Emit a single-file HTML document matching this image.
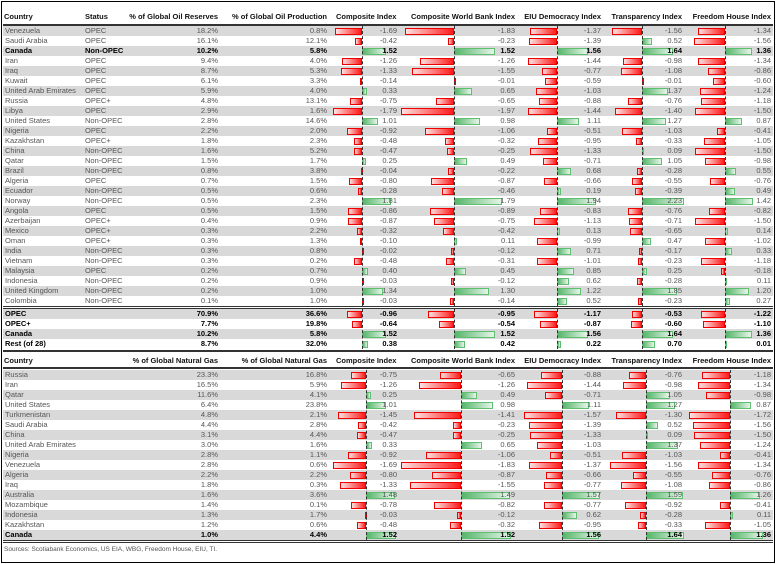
<!DOCTYPE html>
<html><head><meta charset="utf-8"><style>
body{margin:0;width:776px;height:564px;background:#fff;position:relative;overflow:hidden;font-family:"Liberation Sans",sans-serif}
.bd{position:absolute;left:1px;top:1px;width:772px;height:560px;border:1px solid #000}
.r{position:absolute;left:3px;width:770px;height:10px;font-size:7.5px;line-height:10px;color:#555}
.g{background:#d9d9d9}
.r s{position:absolute;text-decoration:none;white-space:nowrap;top:0;z-index:2}
.c{left:2px}.s{left:82px}
.p1{right:555px}.p2{right:446px}.v1{right:376px}.v2{right:258px}.v3{right:172px}.v4{right:91px}.v5{right:2px}
.b{color:#000;font-weight:bold}
i{position:absolute;top:1.5px;height:7px;box-sizing:border-box;width:calc(var(--v)*var(--s));min-width:2px;z-index:1}
.k1{--a:359px;--s:16px}.k2{--a:451px;--s:27px}.k3{--a:554px;--s:20px}.k4{--a:639px;--s:19px}.k5{--a:722px;--s:20px}
.t2 .k1{--a:363px;--s:19.5px}.t2 .k2{--a:458px;--s:33px}.t2 .k3{--a:559px;--s:24px}.t2 .k4{--a:643px;--s:23px}.t2 .k5{--a:727px;--s:24px}
.n{left:calc(var(--a) - var(--v)*var(--s));background:linear-gradient(90deg,#ffe0e0,#ff1a1a);border:1px solid #e00}
.p{left:var(--a);background:linear-gradient(90deg,#55b56a,#e6f5e9);border:1px solid #5fbf70}
.ax{position:absolute;width:0;border-left:1px dashed #333;z-index:3}
.h{position:absolute;font-size:7.5px;font-weight:bold;color:#111;line-height:10px;white-space:nowrap}
.ln{position:absolute;left:3px;width:770px;background:#333}
.src{position:absolute;left:4px;top:546px;font-size:6.5px;color:#555}
</style></head><body>
<div class="bd"></div>
<div class="h" style="left:4px;top:12px">Country</div>
<div class="h" style="left:85px;top:12px">Status</div>
<div class="h" style="right:558px;top:12px">% of Global Oil Reserves</div>
<div class="h" style="right:449px;top:12px">% of Global Oil Production</div>
<div class="h" style="left:336px;top:12px">Composite Index</div>
<div class="h" style="right:261px;top:12px">Composite World Bank Index</div>
<div class="h" style="right:175px;top:12px">EIU Democracy Index</div>
<div class="h" style="right:94px;top:12px">Transparency Index</div>
<div class="h" style="right:5px;top:12px">Freedom House Index</div>
<div class="ln" style="top:24px;height:2px"></div>

<div class="t1">
<div class="r g" style="top:26px"><s class="c">Venezuela</s><s class="s">OPEC</s><s class="p1">18.2%</s><s class="p2">0.8%</s><i class="k1 n" style="--v:1.69"></i><s class="v1">-1.69</s><i class="k2 n" style="--v:1.83"></i><s class="v2">-1.83</s><i class="k3 n" style="--v:1.37"></i><s class="v3">-1.37</s><i class="k4 n" style="--v:1.56"></i><s class="v4">-1.56</s><i class="k5 n" style="--v:1.34"></i><s class="v5">-1.34</s></div>
<div class="r" style="top:36px"><s class="c">Saudi Arabia</s><s class="s">OPEC</s><s class="p1">16.1%</s><s class="p2">12.1%</s><i class="k1 n" style="--v:0.42"></i><s class="v1">-0.42</s><i class="k2 n" style="--v:0.23"></i><s class="v2">-0.23</s><i class="k3 n" style="--v:1.39"></i><s class="v3">-1.39</s><i class="k4 p" style="--v:0.52"></i><s class="v4">0.52</s><i class="k5 n" style="--v:1.56"></i><s class="v5">-1.56</s></div>
<div class="r g b" style="top:46px"><s class="c">Canada</s><s class="s">Non-OPEC</s><s class="p1">10.2%</s><s class="p2">5.8%</s><i class="k1 p" style="--v:1.52"></i><s class="v1">1.52</s><i class="k2 p" style="--v:1.52"></i><s class="v2">1.52</s><i class="k3 p" style="--v:1.56"></i><s class="v3">1.56</s><i class="k4 p" style="--v:1.64"></i><s class="v4">1.64</s><i class="k5 p" style="--v:1.36"></i><s class="v5">1.36</s></div>
<div class="r" style="top:56px"><s class="c">Iran</s><s class="s">OPEC</s><s class="p1">9.4%</s><s class="p2">4.0%</s><i class="k1 n" style="--v:1.26"></i><s class="v1">-1.26</s><i class="k2 n" style="--v:1.26"></i><s class="v2">-1.26</s><i class="k3 n" style="--v:1.44"></i><s class="v3">-1.44</s><i class="k4 n" style="--v:0.98"></i><s class="v4">-0.98</s><i class="k5 n" style="--v:1.34"></i><s class="v5">-1.34</s></div>
<div class="r g" style="top:66px"><s class="c">Iraq</s><s class="s">OPEC</s><s class="p1">8.7%</s><s class="p2">5.3%</s><i class="k1 n" style="--v:1.33"></i><s class="v1">-1.33</s><i class="k2 n" style="--v:1.55"></i><s class="v2">-1.55</s><i class="k3 n" style="--v:0.77"></i><s class="v3">-0.77</s><i class="k4 n" style="--v:1.08"></i><s class="v4">-1.08</s><i class="k5 n" style="--v:0.86"></i><s class="v5">-0.86</s></div>
<div class="r" style="top:76px"><s class="c">Kuwait</s><s class="s">OPEC</s><s class="p1">6.1%</s><s class="p2">3.3%</s><i class="k1 n" style="--v:0.14"></i><s class="v1">-0.14</s><i class="k2 n" style="--v:0.01"></i><s class="v2">-0.01</s><i class="k3 n" style="--v:0.59"></i><s class="v3">-0.59</s><i class="k4 n" style="--v:0.01"></i><s class="v4">-0.01</s><i class="k5 n" style="--v:0.60"></i><s class="v5">-0.60</s></div>
<div class="r g" style="top:86px"><s class="c">United Arab Emirates</s><s class="s">OPEC</s><s class="p1">5.9%</s><s class="p2">4.0%</s><i class="k1 p" style="--v:0.33"></i><s class="v1">0.33</s><i class="k2 p" style="--v:0.65"></i><s class="v2">0.65</s><i class="k3 n" style="--v:1.03"></i><s class="v3">-1.03</s><i class="k4 p" style="--v:1.37"></i><s class="v4">1.37</s><i class="k5 n" style="--v:1.24"></i><s class="v5">-1.24</s></div>
<div class="r" style="top:96px"><s class="c">Russia</s><s class="s">OPEC+</s><s class="p1">4.8%</s><s class="p2">13.1%</s><i class="k1 n" style="--v:0.75"></i><s class="v1">-0.75</s><i class="k2 n" style="--v:0.65"></i><s class="v2">-0.65</s><i class="k3 n" style="--v:0.88"></i><s class="v3">-0.88</s><i class="k4 n" style="--v:0.76"></i><s class="v4">-0.76</s><i class="k5 n" style="--v:1.18"></i><s class="v5">-1.18</s></div>
<div class="r g" style="top:106px"><s class="c">Libya</s><s class="s">OPEC</s><s class="p1">2.9%</s><s class="p2">1.6%</s><i class="k1 n" style="--v:1.79"></i><s class="v1">-1.79</s><i class="k2 n" style="--v:1.97"></i><s class="v2">-1.97</s><i class="k3 n" style="--v:1.44"></i><s class="v3">-1.44</s><i class="k4 n" style="--v:1.40"></i><s class="v4">-1.40</s><i class="k5 n" style="--v:1.50"></i><s class="v5">-1.50</s></div>
<div class="r" style="top:116px"><s class="c">United States</s><s class="s">Non-OPEC</s><s class="p1">2.8%</s><s class="p2">14.6%</s><i class="k1 p" style="--v:1.01"></i><s class="v1">1.01</s><i class="k2 p" style="--v:0.98"></i><s class="v2">0.98</s><i class="k3 p" style="--v:1.11"></i><s class="v3">1.11</s><i class="k4 p" style="--v:1.27"></i><s class="v4">1.27</s><i class="k5 p" style="--v:0.87"></i><s class="v5">0.87</s></div>
<div class="r g" style="top:126px"><s class="c">Nigeria</s><s class="s">OPEC</s><s class="p1">2.2%</s><s class="p2">2.0%</s><i class="k1 n" style="--v:0.92"></i><s class="v1">-0.92</s><i class="k2 n" style="--v:1.06"></i><s class="v2">-1.06</s><i class="k3 n" style="--v:0.51"></i><s class="v3">-0.51</s><i class="k4 n" style="--v:1.03"></i><s class="v4">-1.03</s><i class="k5 n" style="--v:0.41"></i><s class="v5">-0.41</s></div>
<div class="r" style="top:136px"><s class="c">Kazakhstan</s><s class="s">OPEC+</s><s class="p1">1.8%</s><s class="p2">2.3%</s><i class="k1 n" style="--v:0.48"></i><s class="v1">-0.48</s><i class="k2 n" style="--v:0.32"></i><s class="v2">-0.32</s><i class="k3 n" style="--v:0.95"></i><s class="v3">-0.95</s><i class="k4 n" style="--v:0.33"></i><s class="v4">-0.33</s><i class="k5 n" style="--v:1.05"></i><s class="v5">-1.05</s></div>
<div class="r g" style="top:146px"><s class="c">China</s><s class="s">Non-OPEC</s><s class="p1">1.6%</s><s class="p2">5.2%</s><i class="k1 n" style="--v:0.47"></i><s class="v1">-0.47</s><i class="k2 n" style="--v:0.25"></i><s class="v2">-0.25</s><i class="k3 n" style="--v:1.33"></i><s class="v3">-1.33</s><i class="k4 p" style="--v:0.09"></i><s class="v4">0.09</s><i class="k5 n" style="--v:1.50"></i><s class="v5">-1.50</s></div>
<div class="r" style="top:156px"><s class="c">Qatar</s><s class="s">Non-OPEC</s><s class="p1">1.5%</s><s class="p2">1.7%</s><i class="k1 p" style="--v:0.25"></i><s class="v1">0.25</s><i class="k2 p" style="--v:0.49"></i><s class="v2">0.49</s><i class="k3 n" style="--v:0.71"></i><s class="v3">-0.71</s><i class="k4 p" style="--v:1.05"></i><s class="v4">1.05</s><i class="k5 n" style="--v:0.98"></i><s class="v5">-0.98</s></div>
<div class="r g" style="top:166px"><s class="c">Brazil</s><s class="s">Non-OPEC</s><s class="p1">0.8%</s><s class="p2">3.8%</s><i class="k1 n" style="--v:0.04"></i><s class="v1">-0.04</s><i class="k2 n" style="--v:0.22"></i><s class="v2">-0.22</s><i class="k3 p" style="--v:0.68"></i><s class="v3">0.68</s><i class="k4 n" style="--v:0.28"></i><s class="v4">-0.28</s><i class="k5 p" style="--v:0.55"></i><s class="v5">0.55</s></div>
<div class="r" style="top:176px"><s class="c">Algeria</s><s class="s">OPEC</s><s class="p1">0.7%</s><s class="p2">1.5%</s><i class="k1 n" style="--v:0.80"></i><s class="v1">-0.80</s><i class="k2 n" style="--v:0.87"></i><s class="v2">-0.87</s><i class="k3 n" style="--v:0.66"></i><s class="v3">-0.66</s><i class="k4 n" style="--v:0.55"></i><s class="v4">-0.55</s><i class="k5 n" style="--v:0.76"></i><s class="v5">-0.76</s></div>
<div class="r g" style="top:186px"><s class="c">Ecuador</s><s class="s">Non-OPEC</s><s class="p1">0.5%</s><s class="p2">0.6%</s><i class="k1 n" style="--v:0.28"></i><s class="v1">-0.28</s><i class="k2 n" style="--v:0.46"></i><s class="v2">-0.46</s><i class="k3 p" style="--v:0.19"></i><s class="v3">0.19</s><i class="k4 n" style="--v:0.39"></i><s class="v4">-0.39</s><i class="k5 p" style="--v:0.49"></i><s class="v5">0.49</s></div>
<div class="r" style="top:196px"><s class="c">Norway</s><s class="s">Non-OPEC</s><s class="p1">0.5%</s><s class="p2">2.3%</s><i class="k1 p" style="--v:1.81"></i><s class="v1">1.81</s><i class="k2 p" style="--v:1.79"></i><s class="v2">1.79</s><i class="k3 p" style="--v:1.94"></i><s class="v3">1.94</s><i class="k4 p" style="--v:2.23"></i><s class="v4">2.23</s><i class="k5 p" style="--v:1.42"></i><s class="v5">1.42</s></div>
<div class="r g" style="top:206px"><s class="c">Angola</s><s class="s">OPEC</s><s class="p1">0.5%</s><s class="p2">1.5%</s><i class="k1 n" style="--v:0.86"></i><s class="v1">-0.86</s><i class="k2 n" style="--v:0.89"></i><s class="v2">-0.89</s><i class="k3 n" style="--v:0.83"></i><s class="v3">-0.83</s><i class="k4 n" style="--v:0.76"></i><s class="v4">-0.76</s><i class="k5 n" style="--v:0.82"></i><s class="v5">-0.82</s></div>
<div class="r" style="top:216px"><s class="c">Azerbaijan</s><s class="s">OPEC+</s><s class="p1">0.4%</s><s class="p2">0.9%</s><i class="k1 n" style="--v:0.87"></i><s class="v1">-0.87</s><i class="k2 n" style="--v:0.75"></i><s class="v2">-0.75</s><i class="k3 n" style="--v:1.13"></i><s class="v3">-1.13</s><i class="k4 n" style="--v:0.71"></i><s class="v4">-0.71</s><i class="k5 n" style="--v:1.50"></i><s class="v5">-1.50</s></div>
<div class="r g" style="top:226px"><s class="c">Mexico</s><s class="s">OPEC+</s><s class="p1">0.3%</s><s class="p2">2.2%</s><i class="k1 n" style="--v:0.32"></i><s class="v1">-0.32</s><i class="k2 n" style="--v:0.42"></i><s class="v2">-0.42</s><i class="k3 p" style="--v:0.13"></i><s class="v3">0.13</s><i class="k4 n" style="--v:0.65"></i><s class="v4">-0.65</s><i class="k5 p" style="--v:0.14"></i><s class="v5">0.14</s></div>
<div class="r" style="top:236px"><s class="c">Oman</s><s class="s">OPEC+</s><s class="p1">0.3%</s><s class="p2">1.3%</s><i class="k1 n" style="--v:0.10"></i><s class="v1">-0.10</s><i class="k2 p" style="--v:0.11"></i><s class="v2">0.11</s><i class="k3 n" style="--v:0.99"></i><s class="v3">-0.99</s><i class="k4 p" style="--v:0.47"></i><s class="v4">0.47</s><i class="k5 n" style="--v:1.02"></i><s class="v5">-1.02</s></div>
<div class="r g" style="top:246px"><s class="c">India</s><s class="s">Non-OPEC</s><s class="p1">0.3%</s><s class="p2">0.8%</s><i class="k1 n" style="--v:0.02"></i><s class="v1">-0.02</s><i class="k2 n" style="--v:0.12"></i><s class="v2">-0.12</s><i class="k3 p" style="--v:0.71"></i><s class="v3">0.71</s><i class="k4 n" style="--v:0.17"></i><s class="v4">-0.17</s><i class="k5 p" style="--v:0.33"></i><s class="v5">0.33</s></div>
<div class="r" style="top:256px"><s class="c">Vietnam</s><s class="s">Non-OPEC</s><s class="p1">0.3%</s><s class="p2">0.2%</s><i class="k1 n" style="--v:0.48"></i><s class="v1">-0.48</s><i class="k2 n" style="--v:0.31"></i><s class="v2">-0.31</s><i class="k3 n" style="--v:1.01"></i><s class="v3">-1.01</s><i class="k4 n" style="--v:0.23"></i><s class="v4">-0.23</s><i class="k5 n" style="--v:1.18"></i><s class="v5">-1.18</s></div>
<div class="r g" style="top:266px"><s class="c">Malaysia</s><s class="s">OPEC</s><s class="p1">0.2%</s><s class="p2">0.7%</s><i class="k1 p" style="--v:0.40"></i><s class="v1">0.40</s><i class="k2 p" style="--v:0.45"></i><s class="v2">0.45</s><i class="k3 p" style="--v:0.85"></i><s class="v3">0.85</s><i class="k4 p" style="--v:0.25"></i><s class="v4">0.25</s><i class="k5 n" style="--v:0.18"></i><s class="v5">-0.18</s></div>
<div class="r" style="top:276px"><s class="c">Indonesia</s><s class="s">Non-OPEC</s><s class="p1">0.2%</s><s class="p2">0.9%</s><i class="k1 n" style="--v:0.03"></i><s class="v1">-0.03</s><i class="k2 n" style="--v:0.12"></i><s class="v2">-0.12</s><i class="k3 p" style="--v:0.62"></i><s class="v3">0.62</s><i class="k4 n" style="--v:0.28"></i><s class="v4">-0.28</s><i class="k5 p" style="--v:0.11"></i><s class="v5">0.11</s></div>
<div class="r g" style="top:286px"><s class="c">United Kingdom</s><s class="s">Non-OPEC</s><s class="p1">0.2%</s><s class="p2">1.0%</s><i class="k1 p" style="--v:1.34"></i><s class="v1">1.34</s><i class="k2 p" style="--v:1.30"></i><s class="v2">1.30</s><i class="k3 p" style="--v:1.22"></i><s class="v3">1.22</s><i class="k4 p" style="--v:1.85"></i><s class="v4">1.85</s><i class="k5 p" style="--v:1.20"></i><s class="v5">1.20</s></div>
<div class="r" style="top:296px"><s class="c">Colombia</s><s class="s">Non-OPEC</s><s class="p1">0.1%</s><s class="p2">1.0%</s><i class="k1 n" style="--v:0.03"></i><s class="v1">-0.03</s><i class="k2 n" style="--v:0.14"></i><s class="v2">-0.14</s><i class="k3 p" style="--v:0.52"></i><s class="v3">0.52</s><i class="k4 n" style="--v:0.23"></i><s class="v4">-0.23</s><i class="k5 p" style="--v:0.27"></i><s class="v5">0.27</s></div>

<div class="r g b" style="top:309px"><s class="c">OPEC</s><s class="p1">70.9%</s><s class="p2">36.6%</s><i class="k1 n" style="--v:0.96"></i><s class="v1">-0.96</s><i class="k2 n" style="--v:0.95"></i><s class="v2">-0.95</s><i class="k3 n" style="--v:1.17"></i><s class="v3">-1.17</s><i class="k4 n" style="--v:0.53"></i><s class="v4">-0.53</s><i class="k5 n" style="--v:1.22"></i><s class="v5">-1.22</s></div>
<div class="r b" style="top:319px"><s class="c">OPEC+</s><s class="p1">7.7%</s><s class="p2">19.8%</s><i class="k1 n" style="--v:0.64"></i><s class="v1">-0.64</s><i class="k2 n" style="--v:0.54"></i><s class="v2">-0.54</s><i class="k3 n" style="--v:0.87"></i><s class="v3">-0.87</s><i class="k4 n" style="--v:0.60"></i><s class="v4">-0.60</s><i class="k5 n" style="--v:1.10"></i><s class="v5">-1.10</s></div>
<div class="r g b" style="top:329px"><s class="c">Canada</s><s class="p1">10.2%</s><s class="p2">5.8%</s><i class="k1 p" style="--v:1.52"></i><s class="v1">1.52</s><i class="k2 p" style="--v:1.52"></i><s class="v2">1.52</s><i class="k3 p" style="--v:1.56"></i><s class="v3">1.56</s><i class="k4 p" style="--v:1.64"></i><s class="v4">1.64</s><i class="k5 p" style="--v:1.36"></i><s class="v5">1.36</s></div>
<div class="r b" style="top:339px"><s class="c">Rest (of 28)</s><s class="p1">8.7%</s><s class="p2">32.0%</s><i class="k1 p" style="--v:0.38"></i><s class="v1">0.38</s><i class="k2 p" style="--v:0.42"></i><s class="v2">0.42</s><i class="k3 p" style="--v:0.22"></i><s class="v3">0.22</s><i class="k4 p" style="--v:0.70"></i><s class="v4">0.70</s><i class="k5 p" style="--v:0.01"></i><s class="v5">0.01</s></div>
</div>

<div class="ln" style="top:306px;height:1px"></div>
<div class="ln" style="top:308px;height:1px"></div>
<div class="ln" style="top:350px;height:2px"></div>

<div class="ax" style="left:362px;top:26px;height:280px"></div>
<div class="ax" style="left:454px;top:26px;height:280px"></div>
<div class="ax" style="left:557px;top:26px;height:280px"></div>
<div class="ax" style="left:642px;top:26px;height:280px"></div>
<div class="ax" style="left:725px;top:26px;height:280px"></div>
<div class="ax" style="left:362px;top:309px;height:40px"></div>
<div class="ax" style="left:454px;top:309px;height:40px"></div>
<div class="ax" style="left:557px;top:309px;height:40px"></div>
<div class="ax" style="left:642px;top:309px;height:40px"></div>
<div class="ax" style="left:725px;top:309px;height:40px"></div>

<div class="h" style="left:4px;top:356px">Country</div>
<div class="h" style="right:558px;top:356px">% of Global Natural Gas</div>
<div class="h" style="right:449px;top:356px">% of Global Natural Gas</div>
<div class="h" style="left:336px;top:356px">Composite Index</div>
<div class="h" style="right:261px;top:356px">Composite World Bank Index</div>
<div class="h" style="right:175px;top:356px">EIU Democracy Index</div>
<div class="h" style="right:94px;top:356px">Transparency Index</div>
<div class="h" style="right:5px;top:356px">Freedom House Index</div>
<div class="ln" style="top:367px;height:2px"></div>

<div class="t2">
<div class="r g" style="top:370px"><s class="c">Russia</s><s class="p1">23.3%</s><s class="p2">16.8%</s><i class="k1 n" style="--v:0.75"></i><s class="v1">-0.75</s><i class="k2 n" style="--v:0.65"></i><s class="v2">-0.65</s><i class="k3 n" style="--v:0.88"></i><s class="v3">-0.88</s><i class="k4 n" style="--v:0.76"></i><s class="v4">-0.76</s><i class="k5 n" style="--v:1.18"></i><s class="v5">-1.18</s></div>
<div class="r" style="top:380px"><s class="c">Iran</s><s class="p1">16.5%</s><s class="p2">5.9%</s><i class="k1 n" style="--v:1.26"></i><s class="v1">-1.26</s><i class="k2 n" style="--v:1.26"></i><s class="v2">-1.26</s><i class="k3 n" style="--v:1.44"></i><s class="v3">-1.44</s><i class="k4 n" style="--v:0.98"></i><s class="v4">-0.98</s><i class="k5 n" style="--v:1.34"></i><s class="v5">-1.34</s></div>
<div class="r g" style="top:390px"><s class="c">Qatar</s><s class="p1">11.6%</s><s class="p2">4.1%</s><i class="k1 p" style="--v:0.25"></i><s class="v1">0.25</s><i class="k2 p" style="--v:0.49"></i><s class="v2">0.49</s><i class="k3 n" style="--v:0.71"></i><s class="v3">-0.71</s><i class="k4 p" style="--v:1.05"></i><s class="v4">1.05</s><i class="k5 n" style="--v:0.98"></i><s class="v5">-0.98</s></div>
<div class="r" style="top:400px"><s class="c">United States</s><s class="p1">6.4%</s><s class="p2">23.8%</s><i class="k1 p" style="--v:1.01"></i><s class="v1">1.01</s><i class="k2 p" style="--v:0.98"></i><s class="v2">0.98</s><i class="k3 p" style="--v:1.11"></i><s class="v3">1.11</s><i class="k4 p" style="--v:1.27"></i><s class="v4">1.27</s><i class="k5 p" style="--v:0.87"></i><s class="v5">0.87</s></div>
<div class="r g" style="top:410px"><s class="c">Turkmenistan</s><s class="p1">4.8%</s><s class="p2">2.1%</s><i class="k1 n" style="--v:1.45"></i><s class="v1">-1.45</s><i class="k2 n" style="--v:1.41"></i><s class="v2">-1.41</s><i class="k3 n" style="--v:1.57"></i><s class="v3">-1.57</s><i class="k4 n" style="--v:1.30"></i><s class="v4">-1.30</s><i class="k5 n" style="--v:1.72"></i><s class="v5">-1.72</s></div>
<div class="r" style="top:420px"><s class="c">Saudi Arabia</s><s class="p1">4.4%</s><s class="p2">2.8%</s><i class="k1 n" style="--v:0.42"></i><s class="v1">-0.42</s><i class="k2 n" style="--v:0.23"></i><s class="v2">-0.23</s><i class="k3 n" style="--v:1.39"></i><s class="v3">-1.39</s><i class="k4 p" style="--v:0.52"></i><s class="v4">0.52</s><i class="k5 n" style="--v:1.56"></i><s class="v5">-1.56</s></div>
<div class="r g" style="top:430px"><s class="c">China</s><s class="p1">3.1%</s><s class="p2">4.4%</s><i class="k1 n" style="--v:0.47"></i><s class="v1">-0.47</s><i class="k2 n" style="--v:0.25"></i><s class="v2">-0.25</s><i class="k3 n" style="--v:1.33"></i><s class="v3">-1.33</s><i class="k4 p" style="--v:0.09"></i><s class="v4">0.09</s><i class="k5 n" style="--v:1.50"></i><s class="v5">-1.50</s></div>
<div class="r" style="top:440px"><s class="c">United Arab Emirates</s><s class="p1">3.0%</s><s class="p2">1.6%</s><i class="k1 p" style="--v:0.33"></i><s class="v1">0.33</s><i class="k2 p" style="--v:0.65"></i><s class="v2">0.65</s><i class="k3 n" style="--v:1.03"></i><s class="v3">-1.03</s><i class="k4 p" style="--v:1.37"></i><s class="v4">1.37</s><i class="k5 n" style="--v:1.24"></i><s class="v5">-1.24</s></div>
<div class="r g" style="top:450px"><s class="c">Nigeria</s><s class="p1">2.8%</s><s class="p2">1.1%</s><i class="k1 n" style="--v:0.92"></i><s class="v1">-0.92</s><i class="k2 n" style="--v:1.06"></i><s class="v2">-1.06</s><i class="k3 n" style="--v:0.51"></i><s class="v3">-0.51</s><i class="k4 n" style="--v:1.03"></i><s class="v4">-1.03</s><i class="k5 n" style="--v:0.41"></i><s class="v5">-0.41</s></div>
<div class="r" style="top:460px"><s class="c">Venezuela</s><s class="p1">2.8%</s><s class="p2">0.6%</s><i class="k1 n" style="--v:1.69"></i><s class="v1">-1.69</s><i class="k2 n" style="--v:1.83"></i><s class="v2">-1.83</s><i class="k3 n" style="--v:1.37"></i><s class="v3">-1.37</s><i class="k4 n" style="--v:1.56"></i><s class="v4">-1.56</s><i class="k5 n" style="--v:1.34"></i><s class="v5">-1.34</s></div>
<div class="r g" style="top:470px"><s class="c">Algeria</s><s class="p1">2.2%</s><s class="p2">2.2%</s><i class="k1 n" style="--v:0.80"></i><s class="v1">-0.80</s><i class="k2 n" style="--v:0.87"></i><s class="v2">-0.87</s><i class="k3 n" style="--v:0.66"></i><s class="v3">-0.66</s><i class="k4 n" style="--v:0.55"></i><s class="v4">-0.55</s><i class="k5 n" style="--v:0.76"></i><s class="v5">-0.76</s></div>
<div class="r" style="top:480px"><s class="c">Iraq</s><s class="p1">1.8%</s><s class="p2">0.3%</s><i class="k1 n" style="--v:1.33"></i><s class="v1">-1.33</s><i class="k2 n" style="--v:1.55"></i><s class="v2">-1.55</s><i class="k3 n" style="--v:0.77"></i><s class="v3">-0.77</s><i class="k4 n" style="--v:1.08"></i><s class="v4">-1.08</s><i class="k5 n" style="--v:0.86"></i><s class="v5">-0.86</s></div>
<div class="r g" style="top:490px"><s class="c">Australia</s><s class="p1">1.6%</s><s class="p2">3.6%</s><i class="k1 p" style="--v:1.48"></i><s class="v1">1.48</s><i class="k2 p" style="--v:1.49"></i><s class="v2">1.49</s><i class="k3 p" style="--v:1.57"></i><s class="v3">1.57</s><i class="k4 p" style="--v:1.59"></i><s class="v4">1.59</s><i class="k5 p" style="--v:1.26"></i><s class="v5">1.26</s></div>
<div class="r" style="top:500px"><s class="c">Mozambique</s><s class="p1">1.4%</s><s class="p2">0.1%</s><i class="k1 n" style="--v:0.78"></i><s class="v1">-0.78</s><i class="k2 n" style="--v:0.82"></i><s class="v2">-0.82</s><i class="k3 n" style="--v:0.77"></i><s class="v3">-0.77</s><i class="k4 n" style="--v:0.92"></i><s class="v4">-0.92</s><i class="k5 n" style="--v:0.41"></i><s class="v5">-0.41</s></div>
<div class="r g" style="top:510px"><s class="c">Indonesia</s><s class="p1">1.3%</s><s class="p2">1.7%</s><i class="k1 n" style="--v:0.03"></i><s class="v1">-0.03</s><i class="k2 n" style="--v:0.12"></i><s class="v2">-0.12</s><i class="k3 p" style="--v:0.62"></i><s class="v3">0.62</s><i class="k4 n" style="--v:0.28"></i><s class="v4">-0.28</s><i class="k5 p" style="--v:0.11"></i><s class="v5">0.11</s></div>
<div class="r" style="top:520px"><s class="c">Kazakhstan</s><s class="p1">1.2%</s><s class="p2">0.6%</s><i class="k1 n" style="--v:0.48"></i><s class="v1">-0.48</s><i class="k2 n" style="--v:0.32"></i><s class="v2">-0.32</s><i class="k3 n" style="--v:0.95"></i><s class="v3">-0.95</s><i class="k4 n" style="--v:0.33"></i><s class="v4">-0.33</s><i class="k5 n" style="--v:1.05"></i><s class="v5">-1.05</s></div>
<div class="r g b" style="top:530px"><s class="c">Canada</s><s class="p1">1.0%</s><s class="p2">4.4%</s><i class="k1 p" style="--v:1.52"></i><s class="v1">1.52</s><i class="k2 p" style="--v:1.52"></i><s class="v2">1.52</s><i class="k3 p" style="--v:1.56"></i><s class="v3">1.56</s><i class="k4 p" style="--v:1.64"></i><s class="v4">1.64</s><i class="k5 p" style="--v:1.36"></i><s class="v5">1.36</s></div>
</div>

<div class="ax" style="left:366px;top:370px;height:170px"></div>
<div class="ax" style="left:461px;top:370px;height:170px"></div>
<div class="ax" style="left:562px;top:370px;height:170px"></div>
<div class="ax" style="left:646px;top:370px;height:170px"></div>
<div class="ax" style="left:730px;top:370px;height:170px"></div>
<div class="ln" style="top:540px;height:1px"></div>
<div class="ln" style="top:542px;height:1px"></div>

<div class="src">Sources: Scotiabank Economics, US EIA, WBG, Freedom House, EIU, TI.</div>
</body></html>
